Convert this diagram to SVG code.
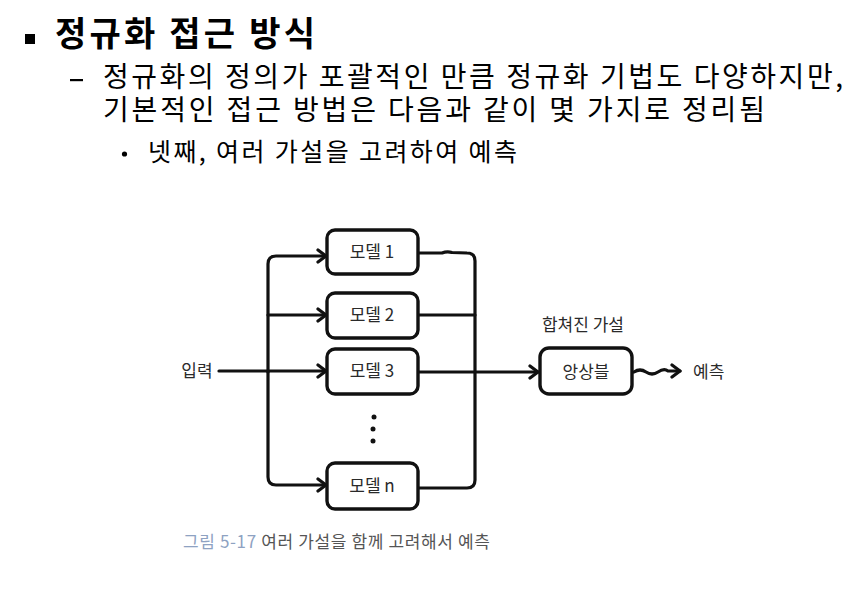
<svg xmlns="http://www.w3.org/2000/svg" width="852" height="596" viewBox="0 0 852 596">
<style>
  .hdr { font-family: "Noto Sans CJK KR", "Liberation Sans", sans-serif; fill: #000; }
  .lbl { font-family: "Noto Sans CJK KR", "Liberation Sans", sans-serif; fill: #2a2a2a; font-size: 17px; }
  .box { fill: #fff; stroke: #111; stroke-width: 3.4; }
  .ln { fill: none; stroke: #111; stroke-width: 3.2; stroke-linejoin: round; stroke-linecap: round; }
  .cap { font-family: "Noto Sans CJK KR", "Liberation Sans", sans-serif; font-size: 17px; }
</style>
<defs>
  <marker id="arr" markerUnits="userSpaceOnUse" markerWidth="14" markerHeight="16" viewBox="0 0 14 16" refX="11" refY="8" orient="auto">
    <path d="M3,2 L11,8 L3,14" fill="none" stroke="#111" stroke-width="3.2" stroke-linecap="round" stroke-linejoin="round"/>
  </marker>
</defs>
<rect width="852" height="596" fill="#fff"/>

<g id="header">
  <rect x="25" y="34" width="10" height="10" fill="#000"/>
  <text class="hdr" x="55" y="46" font-size="34" font-weight="700" textLength="260" lengthAdjust="spacing">정규화 접근 방식</text>
  <rect x="70" y="79" width="13" height="2.2" fill="#000"/>
  <text class="hdr" x="103" y="87" font-size="28" textLength="740" lengthAdjust="spacing">정규화의 정의가 포괄적인 만큼 정규화 기법도 다양하지만,</text>
  <text class="hdr" x="103" y="120" font-size="28" textLength="662" lengthAdjust="spacing">기본적인 접근 방법은 다음과 같이 몇 가지로 정리됨</text>
  <circle cx="124.5" cy="154" r="2.6" fill="#000"/>
  <text class="hdr" x="148" y="161" font-size="25" textLength="369" lengthAdjust="spacing">넷째, 여러 가설을 고려하여 예측</text>
</g>

<g id="connectors">
  <!-- input fan-out -->
  <path class="ln" d="M268,372 L268,264 Q268,256 276,256 L326,256" marker-end="url(#arr)"/>
  <path class="ln" d="M268,372 L268,477 Q268,485 276,485 L326,485" marker-end="url(#arr)"/>
  <path class="ln" d="M268,315 L326,315" marker-end="url(#arr)"/>
  <path class="ln" d="M219,371 L326,371" marker-end="url(#arr)"/>
  <!-- outputs -->
  <path class="ln" d="M418,253 L442,253 Q447,251 452,252.5 L467,253 Q475,253 475,261 L475,480 Q475,488 467,488 L418,488"/>
  <path class="ln" d="M418,315 L475,315"/>
  <path class="ln" d="M418,372 L538,372" marker-end="url(#arr)"/>
  <!-- wavy output -->
  <path class="ln" d="M634,372 q6,-4 12,0 t12,0 t10,-1 L680,371" marker-end="url(#arr)"/>
  <!-- dots -->
  <circle cx="374" cy="417" r="2.5" fill="#111"/>
  <circle cx="373" cy="429" r="2.5" fill="#111"/>
  <circle cx="373" cy="441" r="2.5" fill="#111"/>
</g>

<g id="input">
  <text class="lbl" x="197" y="377" font-size="18" text-anchor="middle">입력</text>
</g>

<g id="model1">
  <rect class="box" x="327" y="230" width="91" height="44" rx="8"/>
  <text class="lbl" x="372" y="258" text-anchor="middle">모델 1</text>
</g>
<g id="model2">
  <rect class="box" x="327" y="293" width="91" height="45" rx="8"/>
  <text class="lbl" x="372" y="321" text-anchor="middle">모델 2</text>
</g>
<g id="model3">
  <rect class="box" x="327" y="349" width="91" height="45" rx="8"/>
  <text class="lbl" x="372" y="377" text-anchor="middle">모델 3</text>
</g>
<g id="modeln">
  <rect class="box" x="327" y="463" width="91" height="46" rx="8"/>
  <text class="lbl" x="372" y="492" text-anchor="middle">모델 n</text>
</g>

<g id="ensemble">
  <text class="lbl" x="583" y="331" font-size="18" text-anchor="middle">합쳐진 가설</text>
  <rect class="box" x="540" y="348" width="92" height="46" rx="9"/>
  <text class="lbl" x="586" y="378" text-anchor="middle">앙상블</text>
</g>

<g id="prediction">
  <text class="lbl" x="693" y="378" font-size="17.5">예측</text>
</g>

<g id="caption">
  <text class="cap" x="183" y="548" textLength="307" lengthAdjust="spacing"><tspan fill="#8ea2c2">그림 5-17</tspan><tspan fill="#555"> 여러 가설을 함께 고려해서 예측</tspan></text>
</g>
</svg>
